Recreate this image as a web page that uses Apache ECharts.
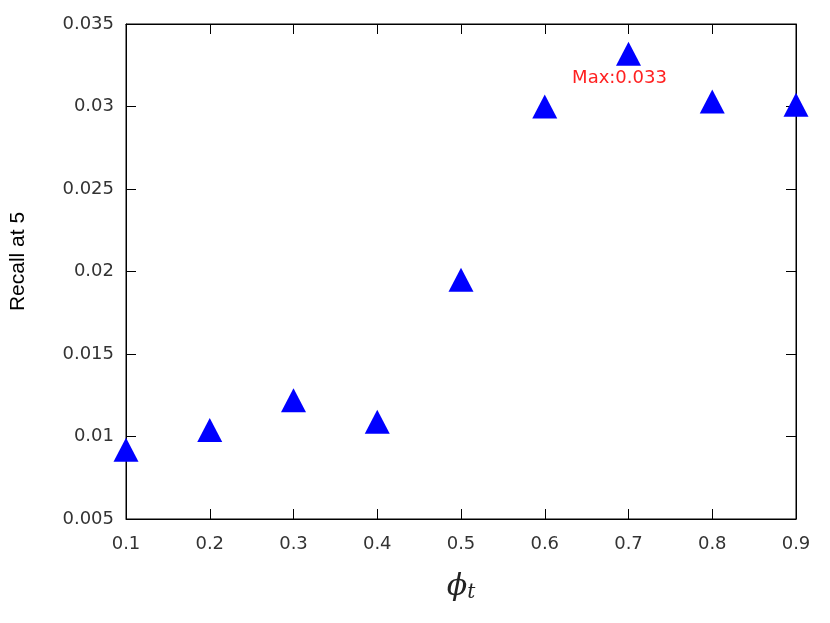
<!DOCTYPE html>
<html>
<head>
<meta charset="utf-8">
<script src="https://cdn.jsdelivr.net/npm/echarts@6/dist/echarts.min.js"></script>
<style>html,body{margin:0;padding:0;background:#fff}#c{width:830px;height:623px}</style>
</head>
<body>
<div id="c"></div>
<script>
var phiValues = [0.1, 0.2, 0.3, 0.4, 0.5, 0.6, 0.7, 0.8, 0.9];
var recallValues = [0.0092, 0.0104, 0.0122, 0.0109, 0.0195, 0.0300, 0.0332, 0.0303, 0.0301];
var maxLabelText = 'Max:0.033';
var yTickMin = 0.005, yTickMax = 0.035, yTickStep = 0.005;
var xTickMin = 0.1, xTickMax = 0.9, xTickStep = 0.1;

var maxIdx = recallValues.indexOf(Math.max.apply(null, recallValues));
var points = phiValues.map(function (x, i) {
  var item = { value: [x, recallValues[i]] };
  if (i === maxIdx) {
    item.label = {
      show: true, position: 'bottom', distance: 4, offset: [-9, 0],
      formatter: maxLabelText, color: '#ff2020',
      fontFamily: 'DejaVu Sans', fontSize: 18
    };
  }
  return item;
});

var tickFont = { fontFamily: 'DejaVu Sans', fontSize: 18, color: '#333' };
function fmt(v) { return String(+v.toFixed(4)); }

var chart = echarts.init(document.getElementById('c'), null, { renderer: 'canvas' });
chart.setOption({
  animation: false,
  grid: { left: 124, right: 34, top: 24, bottom: 104, show: true, borderColor: '#000', borderWidth: 1, backgroundColor: 'transparent' },
  xAxis: [{
    type: 'value', min: xTickMin, max: xTickMax, interval: xTickStep,
    axisLine: { show: true, onZero: false, lineStyle: { color: '#000', width: 1 } },
    axisTick: { show: true, inside: true, length: 10, lineStyle: { color: '#000' } },
    splitLine: { show: false },
    axisLabel: Object.assign({ margin: 16, formatter: fmt }, tickFont),
    name: '{phi|ϕ}{sub|t}', nameLocation: 'middle', nameGap: 52,
    nameTextStyle: {
      rich: {
        phi: { fontFamily: 'DejaVu Serif', fontStyle: 'italic', fontSize: 30, color: '#222' },
        sub: { fontFamily: 'DejaVu Serif', fontStyle: 'italic', fontSize: 20, color: '#222', padding: [12, 0, 0, 0] }
      }
    }
  }, {
    type: 'value', position: 'top', min: xTickMin, max: xTickMax, interval: xTickStep,
    axisLine: { show: true, onZero: false, lineStyle: { color: '#000' } },
    axisTick: { show: true, inside: true, length: 10, lineStyle: { color: '#000' } },
    axisLabel: { show: false }, splitLine: { show: false }
  }],
  yAxis: [{
    type: 'value', min: yTickMin, max: yTickMax, interval: yTickStep,
    axisLine: { show: true, onZero: false, lineStyle: { color: '#000', width: 1 } },
    axisTick: { show: true, inside: true, length: 10, lineStyle: { color: '#000' } },
    splitLine: { show: false },
    axisLabel: Object.assign({ margin: 12, formatter: fmt }, tickFont),
    name: 'Recall at 5', nameLocation: 'middle', nameGap: 97, nameRotate: 90,
    nameTextStyle: { fontFamily: 'Liberation Sans', fontSize: 21, color: '#000', padding: [0, 0, 0, 20] }
  }, {
    type: 'value', position: 'right', min: yTickMin, max: yTickMax, interval: yTickStep,
    axisLine: { show: true, onZero: false, lineStyle: { color: '#000' } },
    axisTick: { show: true, inside: true, length: 10, lineStyle: { color: '#000' } },
    axisLabel: { show: false }, splitLine: { show: false }
  }],
  series: [{
    type: 'scatter', xAxisIndex: 0, yAxisIndex: 0,
    symbol: 'triangle', symbolSize: [25, 24],
    itemStyle: { color: '#0000ff', opacity: 1 },
    clip: false,
    data: points
  }]
});
</script>
</body>
</html>
